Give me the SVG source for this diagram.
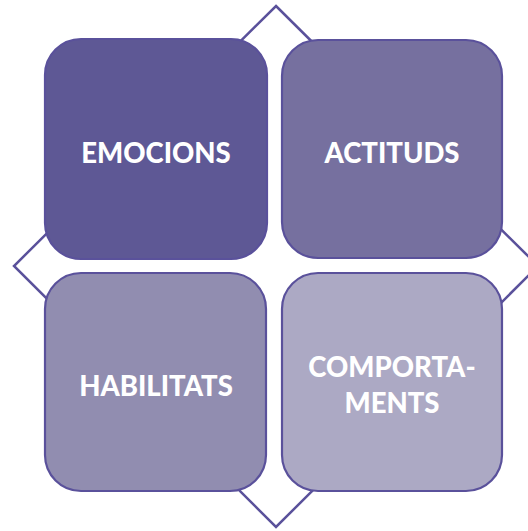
<svg xmlns="http://www.w3.org/2000/svg" width="528" height="531" viewBox="0 0 528 531">
<style>
.box{stroke:#5A519B;stroke-width:2.2}
.lbl{font-family:Lato,"Noto Sans",sans-serif;font-weight:900;font-size:27.5px;fill:#ffffff;text-anchor:middle}
</style>
<rect width="528" height="531" fill="#ffffff"/>
<g id="connectors">
<polygon points="276,6 538,266 276,527 14,266" fill="none" stroke="#5A519B" stroke-width="2.5"/>
</g>
<g id="emocions">
<rect class="box" x="45" y="39" width="222" height="220" rx="36" fill="#5E5895"/>
<text class="lbl" x="156" y="163">EMOCIONS</text>
</g>
<g id="actituds">
<rect class="box" x="282" y="40" width="220" height="218" rx="36" fill="#76709F"/>
<text class="lbl" x="392" y="163">ACTITUDS</text>
</g>
<g id="habilitats">
<rect class="box" x="45" y="273" width="221" height="218" rx="36" fill="#918DB0"/>
<text class="lbl" x="156" y="396">HABILITATS</text>
</g>
<g id="comportaments">
<rect class="box" x="282" y="273" width="220" height="218" rx="36" fill="#ACA9C4"/>
<text class="lbl" x="392" y="377">COMPORTA-</text>
<text class="lbl" x="392" y="413">MENTS</text>
</g>
</svg>
